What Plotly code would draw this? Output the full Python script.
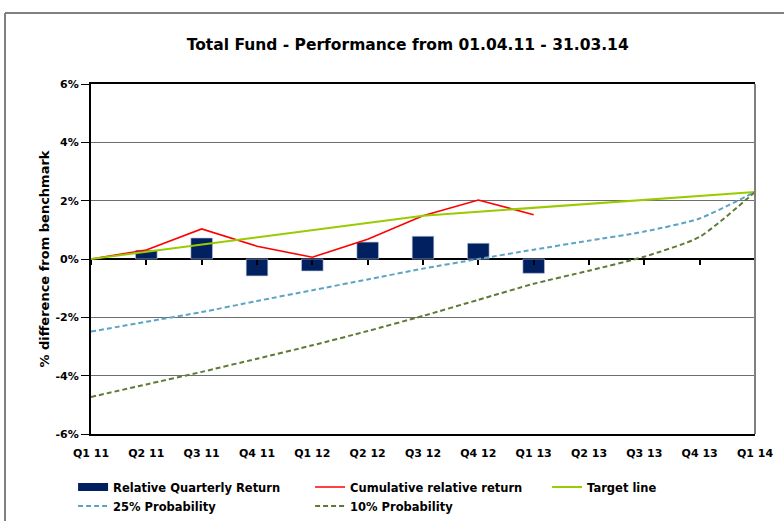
import plotly.graph_objects as go

quarters = ["Q1 11", "Q2 11", "Q3 11", "Q4 11", "Q1 12", "Q2 12", "Q3 12",
            "Q4 12", "Q1 13", "Q2 13", "Q3 13", "Q4 13", "Q1 14"]

# % values
quarterly_return = [None, 0.30, 0.72, -0.58, -0.41, 0.58, 0.78, 0.54, -0.49]
cumulative_return = [0.0, 0.31, 1.03, 0.44, 0.06, 0.68, 1.48, 2.02, 1.52]
target_line = [0.0, 0.25, 0.50, 0.75, 0.99, 1.24, 1.48, 1.62, 1.76, 1.89, 2.03, 2.16, 2.30]
prob_25 = [-2.49, -2.15, -1.82, -1.44, -1.07, -0.70, -0.33, 0.0, 0.32, 0.63, 0.94, 1.39, 2.30]
prob_10 = [-4.73, -4.30, -3.87, -3.42, -2.96, -2.47, -1.95, -1.40, -0.85, -0.40, 0.08, 0.76, 2.30]

y_ticks = [-6, -4, -2, 0, 2, 4, 6]

FONT = "Tahoma, DejaVu Sans, sans-serif"
NAVY = "#002060"
RED = "#ff0000"
LIME = "#99cc00"
AQUA = "#5ba4c4"
OLIVE = "#5e7a36"

fig = go.Figure()
# legend swatch for the bars (Excel style wide block)
fig.add_trace(go.Scatter(
    x=[None], y=[None], mode="lines", name="<b>Relative Quarterly Return</b>",
    line=dict(color=NAVY, width=8), hoverinfo="skip",
))
fig.add_trace(go.Bar(
    x=quarters[:len(quarterly_return)], y=quarterly_return,
    name="Relative Quarterly Return", width=0.39, showlegend=False,
    marker=dict(color=NAVY, line=dict(color="#b8c2dc", width=0.6)),
))
fig.add_trace(go.Scatter(
    x=quarters[:len(cumulative_return)], y=cumulative_return,
    name="<b>Cumulative relative return</b>", mode="lines",
    line=dict(color=RED, width=1.6),
))
fig.add_trace(go.Scatter(
    x=quarters, y=target_line, name="<b>Target line</b>", mode="lines",
    line=dict(color=LIME, width=2),
))
fig.add_trace(go.Scatter(
    x=quarters, y=prob_25, name="<b>25% Probability</b>", mode="lines",
    line=dict(color=AQUA, width=2, dash="5px,3px", shape="spline", smoothing=0.6),
))
fig.add_trace(go.Scatter(
    x=quarters, y=prob_10, name="<b>10% Probability</b>", mode="lines",
    line=dict(color=OLIVE, width=2, dash="5px,3px", shape="spline", smoothing=0.6),
))
# carrier for the tick marks sitting on the 0% line
fig.add_trace(go.Scatter(x=quarters, y=[0] * len(quarters), mode="none",
                         xaxis="x2", showlegend=False, hoverinfo="skip"))

fig.update_layout(
    width=784, height=521,
    paper_bgcolor="white", plot_bgcolor="white",
    font=dict(family=FONT, color="black", size=11),
    title=dict(text="<b>Total Fund - Performance from 01.04.11 - 31.03.14</b>",
               x=0.52, xanchor="center", y=0.915, yanchor="middle",
               font=dict(size=15.5, family=FONT)),
    margin=dict(l=91, r=29, t=84, b=87, autoexpand=False),
    showlegend=True,
    legend=dict(orientation="h", x=-0.027, xanchor="left", y=-0.11, yanchor="top",
                entrywidth=192, tracegroupgap=0,
                font=dict(size=11.5, family=FONT), itemwidth=30,
                bgcolor="rgba(0,0,0,0)"),
    xaxis=dict(
        type="category", range=[0, 12], showgrid=False,
        ticks="outside", ticklen=8, tickcolor="rgba(0,0,0,0)",
        tickfont=dict(size=11), showline=True, linecolor="black",
        linewidth=2, mirror=True, tickprefix="<b>", ticksuffix="</b>",
        automargin=False,
    ),
    xaxis2=dict(
        type="category", range=[0, 12], overlaying="x", anchor="free",
        position=0.5, side="bottom", showticklabels=False, ticks="outside",
        ticklen=5, tickwidth=2, tickcolor="black", showgrid=False,
        showline=False, zeroline=False,
    ),
    yaxis=dict(
        range=[-6, 6], tickvals=y_ticks,
        ticktext=[f"<b>{v}%</b>" for v in y_ticks],
        ticks="outside", ticklen=8, tickwidth=1, tickcolor="black",
        tickfont=dict(size=11),
        showgrid=True, gridcolor="#6e6e6e", gridwidth=1,
        zeroline=True, zerolinecolor="black", zerolinewidth=2,
        showline=True, linecolor="black", linewidth=2,
        title=dict(text="<b>% difference from benchmark</b>",
                   font=dict(size=13), standoff=3),
        automargin=False,
    ),
    shapes=[
        # right border of the plot area
        dict(type="line", xref="paper", yref="paper", x0=1, x1=1, y0=0, y1=1,
             line=dict(color="#808080", width=2)),
        # chart area frame (left and top edges; the rest runs off the page)
        dict(type="line", xref="paper", yref="paper",
             x0=-0.1295, x1=-0.1295, y0=-0.4, y1=1.203,
             line=dict(color="#808080", width=2)),
        dict(type="line", xref="paper", yref="paper",
             x0=-0.1295, x1=1.1, y0=1.203, y1=1.203,
             line=dict(color="#808080", width=2)),
    ],
)

fig.write_html("out.html", config={"displayModeBar": False},
               post_script="document.body.style.margin='0';")
